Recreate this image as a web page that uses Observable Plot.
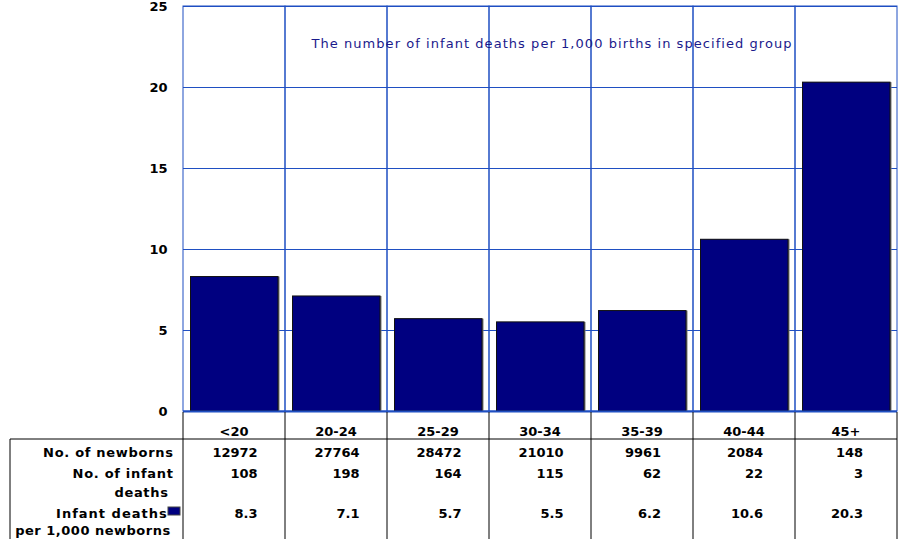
<!DOCTYPE html>
<html><head><meta charset="utf-8">
<script src="https://cdn.jsdelivr.net/npm/d3@7"></script>
<script src="https://cdn.jsdelivr.net/npm/@observablehq/plot@0.6"></script>
<style>body{margin:0;background:#fff} svg{display:block}</style>
</head><body><div id="chart"></div>
<script>
const ageGroups = ["<20", "20-24", "25-29", "30-34", "35-39", "40-44", "45+"];
const newborns = [12972, 27764, 28472, 21010, 9961, 2084, 148];
const infantDeaths = [108, 198, 164, 115, 62, 22, 3];
const deathRate = [8.3, 7.1, 5.7, 5.5, 6.2, 10.6, 20.3];
const yTicks = [0, 5, 10, 15, 20, 25];
const titleText = "The number of infant deaths per 1,000 births in specified group";
const rowLabel1 = ["No. of newborns"];
const rowLabel2 = ["No. of infant", "deaths"];
const rowLabel3 = ["Infant deaths", "per 1,000 newborns"];

const data = ageGroups.map((g, i) => ({group: g, newborns: newborns[i], deaths: infantDeaths[i], rate: deathRate[i]}));

const W = 898, H = 539;
const mL = 183, mR = 1, mT = 6, mB = 128;
const GRID = "#1f4fc2";
const NAVY = "#000080";
const FONT = "DejaVu Sans";

const plot = Plot.plot({
  width: W, height: H,
  marginLeft: mL, marginRight: mR, marginTop: mT, marginBottom: mB,
  style: {fontFamily: FONT, fontSize: "13px", color: "#000", background: "#fff", overflow: "visible"},
  x: {domain: ageGroups, padding: 0, axis: null, label: null},
  y: {domain: [0, 25], axis: null, label: null},
  marks: [
    Plot.ruleY(yTicks, {stroke: GRID, strokeWidth: 1}),
    Plot.barY(data, {x: "group", y1: 0, y2: 25, fill: "none", stroke: GRID, strokeWidth: 1}),
    Plot.barY(data, {x: "group", y: "rate", fill: "#777", insetLeft: 8, insetRight: 5.5}),
    Plot.barY(data, {x: "group", y: "rate", fill: NAVY, stroke: "#111", strokeWidth: 1, insetLeft: 7.5, insetRight: 7}),
    Plot.ruleY([0], {stroke: GRID, strokeWidth: 2}),
    Plot.axisY({ticks: yTicks, tickSize: 0, tickPadding: 16, fontSize: 13, fontWeight: "bold", fill: "#000", label: null, tickFormat: d => String(d)})
  ]
});
document.getElementById("chart").appendChild(plot);

const svg = d3.select(plot);
const xs = plot.scale("x");
const bw = xs.bandwidth;
const y0 = H - mB;
const xRight = xs.apply(ageGroups[ageGroups.length - 1]) + bw;
const tableLeft = 10;

// title
const canvas = document.createElement("canvas").getContext("2d");
canvas.font = `13px "${FONT}"`;
const titleTarget = 481;
const tw = canvas.measureText(titleText).width;
const ls = (titleTarget - tw) / titleText.length;
svg.append("text")
  .attr("x", (mL + xRight) / 2 + 12).attr("y", 48)
  .attr("text-anchor", "middle")
  .attr("font-family", FONT).attr("font-size", 13)
  .attr("letter-spacing", ls)
  .attr("fill", "#1a1a8c")
  .text(titleText);

// table lines
const g = svg.append("g").attr("stroke", "#000").attr("stroke-width", 1);
const bounds = ageGroups.map(a => xs.apply(a)).concat([xRight]);
bounds.forEach(bx => {
  g.append("line").attr("x1", bx).attr("x2", bx).attr("y1", y0 + 1).attr("y2", H);
});
g.append("line").attr("x1", tableLeft).attr("x2", xRight).attr("y1", y0 + 28).attr("y2", y0 + 28);
g.append("line").attr("x1", tableLeft).attr("x2", tableLeft).attr("y1", y0 + 28).attr("y2", H);

// text helper
const tg = svg.append("g").attr("font-family", FONT).attr("font-size", 13).attr("font-weight", "bold").attr("fill", "#000");
canvas.font = `bold 13px "${FONT}"`;
const txt = (s, x, y, anchor, spacing) => {
  const t = tg.append("text").attr("x", x).attr("y", y).attr("text-anchor", anchor).text(s);
  if (spacing) t.attr("letter-spacing", spacing);
  return t;
};

// category labels
ageGroups.forEach(a => txt(a, xs.apply(a) + bw / 2, y0 + 25, "middle"));

// values (right aligned, block centered on column)
const rowsY = [y0 + 46, y0 + 67, y0 + 107];
data.forEach(d => {
  const vals = [String(d.newborns), String(d.deaths), d.rate.toFixed(1)];
  const maxW = d3.max(vals, v => canvas.measureText(v).width);
  const right = xs.apply(d.group) + bw / 2 + maxW / 2 + 1;
  vals.forEach((v, i) => txt(v, right, rowsY[i], "end"));
});

// row labels
const LS = 0.7;
txt(rowLabel1[0], 173 + LS, y0 + 46, "end", LS);
txt(rowLabel2[0], 173 + LS, y0 + 67, "end", LS);
txt(rowLabel2[1], 168 + LS, y0 + 86, "end", LS);
txt(rowLabel3[0], 167 + LS, y0 + 107, "end", 1);
txt(rowLabel3[1], 170 + LS, y0 + 124, "end", 0.5);

// legend swatch
svg.append("rect").attr("x", 168).attr("y", y0 + 96).attr("width", 12).attr("height", 8)
  .attr("fill", NAVY).attr("stroke", "#444").attr("stroke-width", 1);
</script>
</body></html>
